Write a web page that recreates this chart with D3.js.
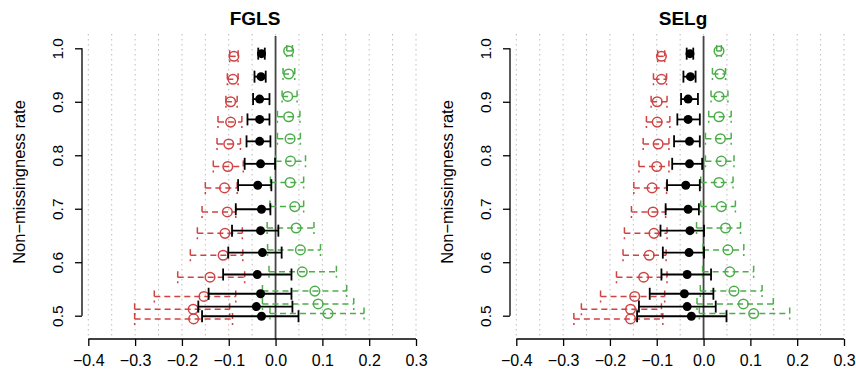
<!DOCTYPE html>
<html>
<head>
<meta charset="utf-8">
<script src="https://cdn.jsdelivr.net/npm/d3@7"></script>
<style>
  body { margin: 0; background: #fff; }
  svg { display: block; font-family: "Liberation Sans", Arial, sans-serif; }
</style>
</head>
<body>
<div id="chart"></div>
<script>
// Non-missingness rate for each row (shared by both panels)
const rates = [0.990, 0.947, 0.905, 0.867, 0.826, 0.784, 0.744, 0.699, 0.659, 0.618, 0.577, 0.541, 0.517, 0.499];

const xTicks = [-0.4, -0.3, -0.2, -0.1, 0.0, 0.1, 0.2, 0.3];
const yTicks = [0.5, 0.6, 0.7, 0.8, 0.9, 1.0];
const gridLines = d3.range(-0.4, 0.3001, 0.05);

// [estimate, lower, upper]
const fglsBlack = [
  [-0.030, -0.037, -0.023], [-0.031, -0.045, -0.021], [-0.034, -0.048, -0.013], [-0.034, -0.060, -0.013],
  [-0.034, -0.062, -0.011], [-0.032, -0.066, -0.001], [-0.038, -0.080, -0.009], [-0.030, -0.085, -0.011],
  [-0.032, -0.093, 0.006], [-0.028, -0.101, 0.013], [-0.039, -0.112, 0.034], [-0.032, -0.143, 0.034],
  [-0.041, -0.165, 0.036], [-0.030, -0.157, 0.049]
];
const fglsRed = [
  [-0.089, -0.098, -0.080], [-0.091, -0.103, -0.080], [-0.096, -0.106, -0.082], [-0.096, -0.123, -0.072],
  [-0.100, -0.125, -0.075], [-0.102, -0.133, -0.069], [-0.109, -0.150, -0.082], [-0.103, -0.157, -0.085],
  [-0.108, -0.167, -0.071], [-0.112, -0.182, -0.070], [-0.140, -0.209, -0.066], [-0.153, -0.259, -0.085],
  [-0.176, -0.301, -0.098], [-0.175, -0.301, -0.092]
];
const fglsGreen = [
  [0.028, 0.024, 0.036], [0.028, 0.016, 0.041], [0.026, 0.014, 0.046], [0.028, 0.004, 0.052],
  [0.031, 0.004, 0.053], [0.032, 0.000, 0.064], [0.031, -0.011, 0.060], [0.041, -0.012, 0.060],
  [0.044, -0.018, 0.082], [0.053, -0.017, 0.096], [0.057, -0.014, 0.130], [0.084, -0.028, 0.152],
  [0.091, -0.028, 0.167], [0.112, -0.012, 0.189]
];

const selgBlack = [
  [-0.029, -0.036, -0.022], [-0.028, -0.043, -0.017], [-0.033, -0.048, -0.012], [-0.033, -0.056, -0.008],
  [-0.030, -0.063, -0.008], [-0.030, -0.067, -0.003], [-0.038, -0.078, -0.008], [-0.033, -0.081, -0.010],
  [-0.029, -0.092, 0.001], [-0.031, -0.087, 0.001], [-0.035, -0.090, 0.016], [-0.041, -0.115, 0.021],
  [-0.035, -0.138, 0.026], [-0.026, -0.142, 0.049]
];
const selgRed = [
  [-0.090, -0.098, -0.083], [-0.090, -0.107, -0.079], [-0.099, -0.112, -0.078], [-0.099, -0.122, -0.072],
  [-0.097, -0.129, -0.074], [-0.100, -0.138, -0.074], [-0.110, -0.149, -0.079], [-0.108, -0.154, -0.081],
  [-0.106, -0.169, -0.078], [-0.116, -0.172, -0.080], [-0.128, -0.186, -0.078], [-0.147, -0.220, -0.083],
  [-0.156, -0.261, -0.090], [-0.156, -0.277, -0.087]
];
const selgGreen = [
  [0.033, 0.028, 0.038], [0.035, 0.019, 0.047], [0.033, 0.016, 0.052], [0.033, 0.011, 0.059],
  [0.036, 0.004, 0.059], [0.038, 0.004, 0.065], [0.033, -0.006, 0.063], [0.038, -0.006, 0.068],
  [0.047, -0.015, 0.079], [0.052, -0.001, 0.086], [0.056, -0.002, 0.107], [0.065, -0.007, 0.125],
  [0.085, -0.014, 0.149], [0.107, -0.009, 0.184]
];

const width = 856, height = 377;
const red = '#cf4343', green = '#4cad4a';

const svg = d3.select('#chart').append('svg')
    .attr('width', width)
    .attr('height', height);

// one panel = one plot region; the right one is shifted by half the width
function drawPanel(offset, title, black, redSeries, greenSeries) {
    let x = d3.scaleLinear().domain([-0.4, 0.3]).range([88.3 + offset, 416 + offset]);
    let y = d3.scaleLinear().domain([0.5, 1.0]).range([315.7, 48.3]);
    let top = 34, bottom = 339, left = 82 + offset;
    let cap = 6;

    let g = svg.append('g');

    // dotted vertical grid
    g.selectAll('line.grid').data(gridLines).enter()
      .append('line')
        .attr('class', 'grid')
        .attr('x1', d => x(d)).attr('x2', d => x(d))
        .attr('y1', top).attr('y2', bottom - 3)
        .attr('stroke', '#bdbdbd')
        .attr('stroke-width', 1)
        .attr('stroke-dasharray', '1.5,3.5');

    // zero line
    g.append('line')
        .attr('x1', x(0)).attr('x2', x(0))
        .attr('y1', top + 2).attr('y2', bottom)
        .attr('stroke', '#444')
        .attr('stroke-width', 1.8);

    // x axis
    let xAxis = g.append('g')
        .attr('transform', `translate(0,${bottom})`)
        .call(d3.axisBottom(x).tickValues(xTicks).tickSize(7).tickPadding(9)
            .tickFormat(d => d3.format('.1f')(d).replace('-', '\u2212')));
    xAxis.select('.domain').attr('stroke', '#000').attr('stroke-width', 1.3)
        .attr('d', `M${x(-0.4)},0H${x(0.3)}`);
    xAxis.selectAll('.tick line').attr('stroke', '#000').attr('stroke-width', 1.3);
    xAxis.selectAll('.tick text').attr('font-size', 16).attr('fill', '#000')
        .attr('font-family', '"Liberation Sans", Arial, sans-serif');

    // y axis
    let yAxis = g.append('g')
        .attr('transform', `translate(${left},0)`)
        .call(d3.axisLeft(y).tickValues(yTicks).tickSize(7).tickFormat(d3.format('.1f')));
    yAxis.select('.domain').attr('stroke', '#000').attr('stroke-width', 1.3)
        .attr('d', `M0,${y(1.0)}V${y(0.5)}`);
    yAxis.selectAll('.tick line').attr('stroke', '#000').attr('stroke-width', 1.3);
    yAxis.selectAll('.tick text')
        .attr('font-size', 15.5).attr('fill', '#000')
        .attr('font-family', '"Liberation Sans", Arial, sans-serif')
        .attr('text-anchor', 'middle')
        .attr('x', 0).attr('dy', null).attr('y', 0)
        .attr('transform', 'translate(-19,0) rotate(-90)');

    // axis title
    g.append('text')
        .attr('transform', `translate(${25 + offset},${(y(1.0) + y(0.5)) / 2}) rotate(-90)`)
        .attr('text-anchor', 'middle')
        .attr('font-size', 16.5)
        .text('Non\u2212missingness rate');

    // panel title
    g.append('text')
        .attr('x', 255 + offset).attr('y', 25)
        .attr('text-anchor', 'middle')
        .attr('font-size', 19)
        .attr('font-weight', 'bold')
        .text(title);

    function series(data, color, dy, dashed, filled) {
        let s = g.append('g');
        let rows = data.map((d, i) => ({ est: d[0], lo: d[1], hi: d[2], rate: rates[i] + dy }));
        let dash = dashed ? '6,4' : null;
        let lw = dashed ? 1.5 : 1.8;

        s.selectAll('line.ci').data(rows).enter().append('line')
            .attr('x1', d => x(d.lo)).attr('x2', d => x(d.hi))
            .attr('y1', d => y(d.rate)).attr('y2', d => y(d.rate))
            .attr('stroke', color).attr('stroke-width', lw).attr('stroke-dasharray', dash);

        ['lo', 'hi'].forEach(k => {
            s.selectAll('line.cap-' + k).data(rows).enter().append('line')
                .attr('x1', d => x(d[k])).attr('x2', d => x(d[k]))
                .attr('y1', d => y(d.rate) - cap).attr('y2', d => y(d.rate) + cap)
                .attr('stroke', color).attr('stroke-width', lw).attr('stroke-dasharray', dash);
        });

        s.selectAll('circle').data(rows).enter().append('circle')
            .attr('cx', d => x(d.est)).attr('cy', d => y(d.rate))
            .attr('r', filled ? 4.5 : 4.8)
            .attr('fill', filled ? color : 'none')
            .attr('stroke', color)
            .attr('stroke-width', filled ? 0 : 1.5);
    }

    series(redSeries, red, -0.005, true, false);
    series(greenSeries, green, 0.005, true, false);
    series(black, '#000', 0, false, true);
}

drawPanel(0, 'FGLS', fglsBlack, fglsRed, fglsGreen);
drawPanel(428, 'SELg', selgBlack, selgRed, selgGreen);
</script>
</body>
</html>
